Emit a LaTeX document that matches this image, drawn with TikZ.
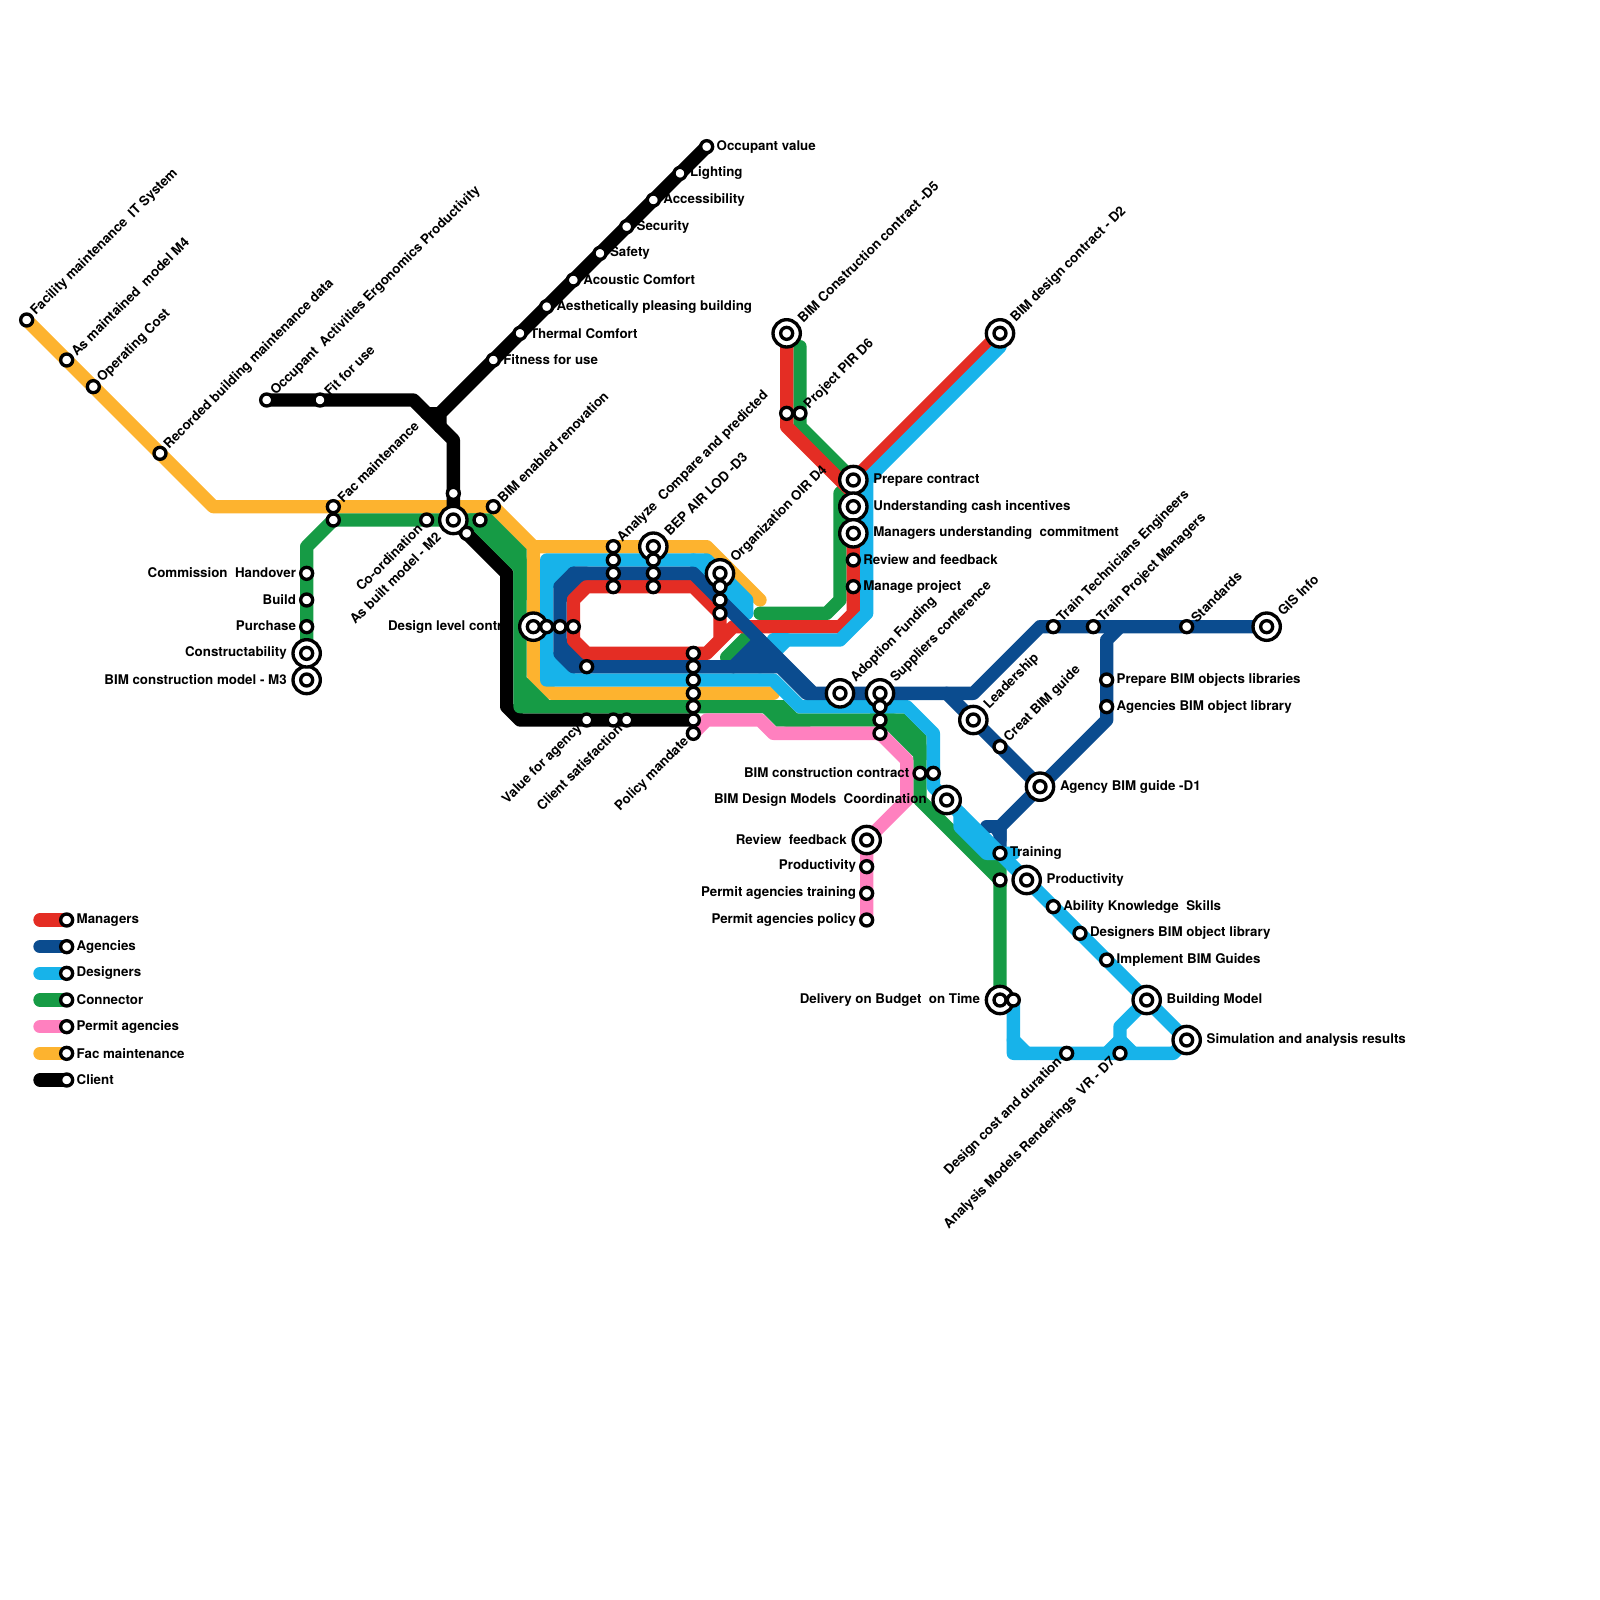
\documentclass[tikz,border=0pt]{standalone}
\usepackage{fontspec}
\setmainfont{TeX Gyre Heros}
\usetikzlibrary{backgrounds}
\definecolor{mgr}{HTML}{E42D24}
\definecolor{agc}{HTML}{0B4C8F}
\definecolor{dsg}{HTML}{17B3EA}
\definecolor{cnn}{HTML}{169B45}
\definecolor{pmt}{HTML}{FF80BF}
\definecolor{fac}{HTML}{FDB32F}
\definecolor{clt}{HTML}{000000}
\tikzset{
  metro/.style={line width=0.4cm,line join=round,line cap=round},
  st/.style={circle,draw=black,fill=white,line width=0.1cm,minimum size=0.36cm,inner sep=0pt,outer sep=0pt},
  bigst/.style={circle,draw=black,fill=white,line width=0.1cm,minimum size=0.82cm,inner sep=0pt,outer sep=0pt},
  lb/.style={inner sep=0pt,outer sep=0pt,font=\fontsize{11.38pt}{13pt}\selectfont\bfseries},
  lr/.style={lb,anchor=west},
  ll/.style={lb,anchor=east},
  lu/.style={lb,anchor=west,rotate=45},
  ld/.style={lb,anchor=east,rotate=45},
}
\newcommand\StS[3]{\node[st] (#1) at (#2,#3) {};}
\newcommand\StB[3]{\node[bigst] (#1) at (#2,#3) {};\node[st] (#1i) at (#2,#3) {};}
\newcommand\TxRS[4]{\node[lr] (t#1) at ([xshift=0.30cm]#2,#3) {#4};}
\newcommand\TxRB[4]{\node[lr] (t#1) at ([xshift=0.6cm]#2,#3) {#4};}
\newcommand\TxLS[4]{\node[ll] (t#1) at ([xshift=-0.32cm,yshift=0.015cm]#2,#3) {#4};}
\newcommand\TxLB[4]{\node[ll] (t#1) at ([xshift=-0.6cm,yshift=0.015cm]#2,#3) {#4};}
\newcommand\TxUS[4]{\node[lu] (t#1) at ([xshift=0.2cm,yshift=0.2cm]#2,#3) {#4};}
\newcommand\TxUB[4]{\node[lu] (t#1) at ([xshift=0.4cm,yshift=0.4cm]#2,#3) {#4};}
\newcommand\TxDS[4]{\node[ld] (t#1) at ([xshift=-0.2cm,yshift=-0.2cm]#2,#3) {#4};}
\newcommand\TxDB[4]{\node[ld] (t#1) at ([xshift=-0.45cm,yshift=-0.45cm]#2,#3) {#4};}
\begin{document}
\begin{tikzpicture}[x=0.4cm,y=-0.4cm]
\useasboundingbox (0,0) rectangle (120,120);
% ---------- labels
\TxRS{a}{53}{11}{Occupant value}
\TxRS{b}{51}{13}{Lighting}
\TxRS{c}{49}{15}{Accessibility}
\TxRS{d}{47}{17}{Security}
\TxRS{e}{45}{19}{Safety}
\TxRS{f}{43}{21}{Acoustic Comfort}
\TxRS{g}{41}{23}{Aesthetically pleasing building}
\TxRS{h}{39}{25}{Thermal Comfort}
\TxRS{i}{37}{27}{Fitness for use}
\TxRB{j}{64}{36}{Prepare contract}
\TxRB{k}{64}{38}{Understanding cash incentives}
\TxRB{l}{64}{40}{Managers understanding\ \ commitment}
\TxRS{m}{64}{42}{Review and feedback}
\TxRS{n}{64}{44}{Manage project}
\TxRB{o}{78}{59}{Agency BIM guide -D1}
\TxRS{p}{75}{64}{Training}
\TxRB{q}{77}{66}{Productivity}
\TxRS{r}{79}{68}{Ability Knowledge\ \ Skills}
\TxRS{s}{81}{70}{Designers BIM object library}
\TxRS{t}{83}{72}{Implement BIM Guides}
\TxRB{u}{86}{75}{Building Model}
\TxRB{v}{89}{78}{Simulation and analysis results}
\TxRS{w}{83}{51}{Prepare BIM objects libraries}
\TxRS{x}{83}{53}{Agencies BIM object library}
\TxRS{y1}{5}{69}{Managers}
\TxRS{y2}{5}{71}{Agencies}
\TxRS{y3}{5}{73}{Designers}
\TxRS{y4}{5}{75}{Connector}
\TxRS{y5}{5}{77}{Permit agencies}
\TxRS{y6}{5}{79}{Fac maintenance}
\TxRS{y7}{5}{81}{Client}
\TxLS{aa}{23}{43}{Commission\ \ Handover}
\TxLS{ab}{23}{45}{Build}
\TxLS{ac}{23}{47}{Purchase}
\TxLB{ad}{23}{49}{Constructability}
\TxLB{ae}{23}{51}{BIM construction model - M3}
\node[lr] (taf) at (29.1,47) {Design level contr};
\TxLS{ag}{69}{58}{BIM construction contract}
\TxLB{ah}{71}{60}{BIM Design Models\ \ Coordination}
\TxLB{ai}{65}{63}{Review\ \ feedback}
\TxLS{aj}{65}{65}{Productivity}
\TxLS{ak}{65}{67}{Permit agencies training}
\TxLS{al}{65}{69}{Permit agencies policy}
\TxLB{am}{75}{75}{Delivery on Budget\ \ on Time}
\TxUS{ba}{2}{24}{Facility maintenance\ \ IT System}
\TxUS{bb}{5}{27}{As maintained\ \ model M4}
\TxUS{bc}{7}{29}{Operating Cost}
\TxUS{bd}{12}{34}{Recorded building maintenance data}
\TxUS{be}{20}{30}{Occupant\ \ Activities Ergonomics Productivity}
\TxUS{bf}{24}{30}{Fit for use}
\TxUS{bg}{25}{38}{Fac maintenance}
\TxUS{bh}{37}{38}{BIM enabled renovation}
\TxUS{bi}{46}{41}{Analyze\ \ Compare and predicted}
\TxUB{bj}{49}{41}{BEP AIR LOD -D3}
\TxUB{bk}{54}{43}{Organization OIR D4}
\TxUB{bl}{59}{25}{BIM Construction contract -D5}
\TxUS{bm}{60}{31}{Project PIR D6}
\TxUB{bn}{75}{25}{BIM design contract - D2}
\TxUB{bo}{63}{52}{Adoption Funding}
\TxUB{bp}{66}{52}{Suppliers conference}
\TxUB{bq}{73}{54}{Leadership}
\TxUS{br}{75}{56}{Creat BIM guide}
\TxUS{bs}{79}{47}{Train Technicians Engineers}
\TxUS{bt}{82}{47}{Train Project Managers}
\TxUS{bu}{89}{47}{Standards}
\TxUB{bv}{95}{47}{GIS Info}
\TxDS{ca}{32}{39}{Co-ordination}
\TxDB{cb}{34}{39}{As built model - M2}
\TxDS{cc}{44}{54}{Value for agency}
\TxDS{cd}{47}{54}{Client satisfaction}
\TxDS{ce}{52}{55}{Policy mandate}
\TxDS{cf}{80}{79}{Design cost and duration}
\TxDS{cg}{84}{79}{Analysis Models Renderings\ \ VR - D7}
% ---------- stations
\StB{M3}{23}{51}\StB{Con}{23}{49}
\StB{M2}{34}{39}\StB{DL}{40}{47}
\StB{BEP}{49}{41}\StB{Org}{54}{43}
\StB{D5}{59}{25}\StB{D2}{75}{25}
\StB{Pre}{64}{36}\StB{Und}{64}{38}\StB{Man}{64}{40}
\StB{Ado}{63}{52}\StB{Sup}{66}{52}\StB{Lea}{73}{54}
\StB{D1}{78}{59}\StB{Coo}{71}{60}\StB{Rev}{65}{63}
\StB{Pro}{77}{66}\StB{Del}{75}{75}\StB{Bld}{86}{75}\StB{Sim}{89}{78}\StB{GIS}{95}{47}
\StS{FM}{2}{24}\StS{AM}{5}{27}\StS{OC}{7}{29}\StS{RB}{12}{34}
\StS{OA}{20}{30}\StS{FU}{24}{30}
\StS{FU2}{37}{27}\StS{TC}{39}{25}\StS{AP}{41}{23}\StS{AC}{43}{21}\StS{SF}{45}{19}\StS{SE}{47}{17}\StS{AB}{49}{15}\StS{LI}{51}{13}\StS{OV}{53}{11}
\StS{FMa}{25}{38}\StS{FMb}{25}{39}\StS{CO}{32}{39}\StS{up}{34}{37}\StS{dn}{35}{40}\StS{g36}{36}{39}\StS{BE}{37}{38}
\StS{CH}{23}{43}\StS{BU}{23}{45}\StS{PU}{23}{47}
\StS{d41}{41}{47}\StS{d42}{42}{47}\StS{d43}{43}{47}
\StS{a41}{46}{41}\StS{a42}{46}{42}\StS{a43}{46}{43}\StS{a44}{46}{44}
\StS{b42}{49}{42}\StS{b43}{49}{43}\StS{b44}{49}{44}
\StS{o44}{54}{44}\StS{o45}{54}{45}\StS{o46}{54}{46}
\StS{v50}{44}{50}\StS{VA}{44}{54}\StS{CS}{46}{54}\StS{c47}{47}{54}
\StS{p49}{52}{49}\StS{p50}{52}{50}\StS{p51}{52}{51}\StS{p52}{52}{52}\StS{p53}{52}{53}\StS{p54}{52}{54}\StS{PM}{52}{55}
\StS{r31}{59}{31}\StS{g31}{60}{31}
\StS{RF}{64}{42}\StS{MP}{64}{44}
\StS{s53}{66}{53}\StS{s54}{66}{54}\StS{s55}{66}{55}
\StS{BC1}{69}{58}\StS{BC2}{70}{58}
\StS{PR}{65}{65}\StS{PT}{65}{67}\StS{PP}{65}{69}
\StS{CB}{75}{56}\StS{TR}{75}{64}\StS{g66}{75}{66}
\StS{AK}{79}{68}\StS{DB}{81}{70}\StS{IB}{83}{72}
\StS{l76}{76}{75}\StS{DC}{80}{79}\StS{VR}{84}{79}
\StS{TT}{79}{47}\StS{TP}{82}{47}\StS{ST}{89}{47}
\StS{PB}{83}{51}\StS{AB2}{83}{53}
\StS{L1}{5}{69}\StS{L2}{5}{71}\StS{L3}{5}{73}\StS{L4}{5}{75}\StS{L5}{5}{77}\StS{L6}{5}{79}\StS{L7}{5}{81}
% ---------- lines
\begin{scope}[on background layer]
% legend
\draw[metro,mgr] (3,69) -- (L1.center);
\draw[metro,agc] (3,71) -- (L2.center);
\draw[metro,dsg] (3,73) -- (L3.center);
\draw[metro,cnn] (3,75) -- (L4.center);
\draw[metro,pmt] (3,77) -- (L5.center);
\draw[metro,fac] (3,79) -- (L6.center);
\draw[metro,clt] (3,81) -- (L7.center);
% fac maintenance
\draw[metro,fac] (FM.center) -- (16,38) -- (37,38) -- (40,41) -- (53,41) -- (57,45);
\draw[metro,fac] (40,41) -- (40,50.6) -- (41.4,52) -- (58,52);
% client
\draw[metro,clt] (OA.center) -- (31,30) -- (34,33) -- (M2.center) -- (38,43) -- (38,53) -- (39,54) -- (p54.center);
\draw[metro,clt] (OV.center) -- (33,31) -- (33,32);
\draw[metro,clt] (32,31) -- (33,31);
% connector
\draw[metro,cnn] (M3.center) -- (23,41) -- (25,39) -- (36,39) -- (39,42) -- (39,53) -- (58,53) -- (59,54) -- (67,54) -- (69,56) -- (69,60) -- (75,66) -- (Del.center);
\fill[cnn] (36.8,38.5) -- (39.5,41.2) -- (39.5,45) -- (38.5,45) -- (38.5,42.8) -- (35.2,39.5) -- (35.2,38.5) -- cycle;
\fill[cnn] (39.5,50.8) -- (41.2,52.5) -- (41.2,53) -- (39,53) -- (39,50.8) -- cycle;
\fill[cnn] (56.25,52.5) -- (58.8,52.5) -- (60.8,54.5) -- (58.25,54.5) -- cycle;
\fill[cnn] (65.25,53.5) -- (67.8,53.5) -- (69.5,55.2) -- (69.5,57) -- (68.5,57) -- (68.5,56.75) -- cycle;
\fill[cnn] (73.7,64.5) -- (75.5,64.5) -- (75.5,66.5) -- (75,66) -- cycle;
\draw[metro,cnn] (60,26) -- (60,32) -- (64,36) -- (63,37) -- (63,45) -- (62,46) -- (57,46);
\draw[metro,cnn] (56.8,47) -- (54.5,49.3);
% permit
\draw[metro,pmt] (PM.center) -- (53,54) -- (57,54) -- (58,55) -- (66,55) -- (68,57) -- (68,60) -- (Rev.center) -- (PP.center);
% fills behind the red ring
\fill[agc] (42.4,43.4) -- (44.2,43.4) -- (42.4,45.2) -- cycle;
\fill[agc] (42.4,49.6) -- (44.2,49.6) -- (42.4,47.8) -- cycle;
% managers
\draw[metro,mgr] (D5.center) -- (59,32) -- (64,37) -- (64,46) -- (63,47) -- (55,47) -- (53,49) -- (44,49) -- (43,48) -- (43,45) -- (44,44) -- (52,44) -- (54,46) -- (54,48) -- (53,49);
\draw[metro,mgr] (D2.center) -- (Pre.center) -- (64,37);
% agencies, part under designers
\draw[metro,agc] (D1.center) -- (75,62) -- (75,63);
\draw[metro,agc] (74,62) -- (75,62);
\fill[agc] (74,62) -- (75.5,62) -- (75.5,64) -- cycle;
% designers
\fill[dsg] (41.4,42.4) -- (43.2,42.4) -- (41.4,44.2) -- cycle;
\fill[dsg] (41.4,50.6) -- (43.2,50.6) -- (41.4,48.8) -- cycle;
\draw[metro,dsg] (52,42) -- (56,46);
\draw[metro,dsg] (56,46) -- (56,45) -- (53,42) -- (41,42) -- (41,51) -- (58,51) -- (60,53) -- (68,53) -- (70,55) -- (70,59) -- (Sim.center) -- (88,79) -- (76,79) -- (l76.center);
\draw[metro,dsg] (75,26) -- (65,36) -- (65,46) -- (63,48) -- (59,48) -- (57,50);
\draw[metro,dsg] (58,48) -- (59,48);
\draw[metro,dsg] (72,61) -- (72,62) -- (74,64) -- (76,64);
\draw[metro,dsg] (76,78) -- (77,79);
\draw[metro,dsg] (Bld.center) -- (84,77) -- (VR.center);
\draw[metro,dsg] (83,79) -- (84,78) -- (85,79);
% agencies
\draw[metro,agc] (44,43) -- (43,43) -- (42,44) -- (42,49) -- (43,50) -- (55,50) -- (57,48);
\draw[metro,agc] (43,43) -- (52,43) -- (61,52) -- (71,52) -- (D1.center);
\draw[metro,agc] (55,50) -- (58.5,50) -- (60.5,52) -- (61,52);
\fill[agc] (55,50) -- (57,48) -- (59,50) -- cycle;
\draw[metro,agc] (71,52) -- (73,52) -- (78,47) -- (GIS.center);
\draw[metro,agc] (D1.center) -- (83,54) -- (83,48) -- (84,47);
\end{scope}
\end{tikzpicture}
\end{document}
